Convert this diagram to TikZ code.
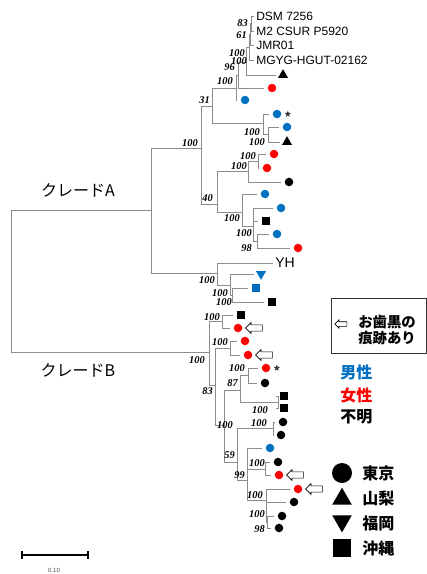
\documentclass[tikz,border=0pt]{standalone}
\usepackage{fontspec}
\setmainfont{Liberation Sans}
\newfontfamily\jpfont{Noto Sans CJK JP}
\newfontfamily\bsfont{Liberation Serif}
\usetikzlibrary{shapes.geometric,shapes.arrows,arrows.meta,positioning}
\definecolor{mblue}{RGB}{0,112,192}
\definecolor{mred}{RGB}{255,0,0}
\definecolor{limbgray}{RGB}{140,140,140}
\tikzset{
  limb/.style={draw=limbgray,line width=0.6pt},
  leafline/.style={limb,shorten >=2.5pt},
  textline/.style={limb,shorten >=1.5pt},
  mdot/.style={circle,inner sep=0pt,minimum size=6.4pt},
  bdot/.style={mdot,fill=mblue},
  rdot/.style={mdot,fill=mred},
  kdot/.style={mdot,fill=black},
  ktri/.style={regular polygon,regular polygon sides=3,inner sep=0pt,minimum size=8.7pt,fill=black},
  bdown/.style={ktri,fill=mblue,shape border rotate=180},
  ksq/.style={rectangle,inner sep=0pt,minimum size=6pt,fill=black},
  bsq/.style={ksq,fill=mblue},
  mstar/.style={star,star points=5,star point ratio=2.4,inner sep=0pt,minimum size=5pt,fill=black!80},
  oharrow/.style={single arrow,draw=black,fill=white,line width=0.5pt,shape border rotate=180,
    inner sep=2.1pt,minimum height=12.5pt,single arrow head extend=1.6pt},
  strain/.style={anchor=west,inner sep=0pt,font=\fontsize{9}{10}\selectfont},
  bs/.style={anchor=east,inner sep=0pt,font=\bsfont\bfseries\itshape\fontsize{7.8}{8}\selectfont},
  clade/.style={inner sep=0pt,font=\jpfont\fontsize{12}{13}\selectfont},
  legtext/.style={anchor=west,inner sep=0pt,font=\jpfont\bfseries\fontsize{12}{13}\selectfont}
}
\begin{document}
\begin{tikzpicture}[x=0.75pt,y=-0.75pt]
\useasboundingbox (0,0) rectangle (427,574);
\coordinate (root) at (11,281);
\coordinate (nA) at (151,210);
\coordinate (nB) at (209,352);
\coordinate (nX) at (201,148);
\coordinate (nY) at (217,273);
\coordinate (n31) at (212,106);
\coordinate (n40) at (217,204);
\coordinate (na) at (251,23);
\coordinate (nb) at (250,34);
\coordinate (nc) at (249,47);
\coordinate (nd) at (246,62);
\coordinate (ne) at (238,75);
\coordinate (nf) at (236,88);
\coordinate (nh) at (263,123);
\coordinate (ng) at (268,134);
\coordinate (ni) at (258,161);
\coordinate (nj) at (248,171);
\coordinate (nk) at (242,212);
\coordinate (nm) at (253,226);
\coordinate (nn) at (257,241);
\coordinate (nq) at (230,285);
\coordinate (nr) at (232,295);
\coordinate (ns) at (222,321);
\coordinate (nt) at (215,385);
\coordinate (nu) at (230,348);
\coordinate (nt2) at (224,425);
\coordinate (n87) at (240,390);
\coordinate (nw) at (248,375);
\coordinate (nsq) at (278,402);
\coordinate (nt3) at (237,462);
\coordinate (nz) at (273,428);
\coordinate (ndd) at (247,480);
\coordinate (naa) at (265,469);
\coordinate (nbb) at (266,500);
\coordinate (ncc) at (267,522);
\node[strain] (s1) at (256,16) {DSM 7256};
\node[strain] (s2) at (256,31) {M2 CSUR P5920};
\node[strain] (s3) at (256,45) {JMR01};
\node[strain] (s4) at (256,60) {MGYG-HGUT-02162};
\node[ktri] (l5) at (283,75) {};
\node[rdot] (l6) at (272,88) {};
\node[bdot] (l7) at (245,100) {};
\node[bdot] (l8) at (277,114) {};
\node[bdot] (l9) at (287,127) {};
\node[ktri] (l10) at (287,142) {};
\node[rdot] (l11) at (274,154) {};
\node[rdot] (l12) at (267,168) {};
\node[kdot] (l13) at (289,182) {};
\node[bdot] (l14) at (265,194) {};
\node[bdot] (l15) at (281,208) {};
\node[ksq] (l16) at (266,221) {};
\node[bdot] (l17) at (277,234) {};
\node[rdot] (l18) at (298,248) {};
\node[strain,font=\fontsize{10.5}{11}\selectfont] (l19) at (275,263) {YH};
\node[bdown] (l20) at (261,274) {};
\node[bsq] (l21) at (256,288) {};
\node[ksq] (l22) at (272,302) {};
\node[ksq] (l23) at (241,315) {};
\node[rdot] (l24) at (238,328) {};
\node[rdot] (l25) at (245,341) {};
\node[rdot] (l26) at (248,355) {};
\node[rdot] (l27) at (266,368) {};
\node[kdot] (l28) at (265,383) {};
\node[ksq] (l29) at (284,396) {};
\node[ksq] (l30) at (284,408) {};
\node[kdot] (l31) at (283,422) {};
\node[kdot] (l32) at (281,435) {};
\node[bdot] (l33) at (270,448) {};
\node[kdot] (l34) at (278,462) {};
\node[rdot] (l35) at (279,475) {};
\node[rdot] (l36) at (298,489) {};
\node[kdot] (l37) at (294,502) {};
\node[kdot] (l38) at (282,516) {};
\node[kdot] (l39) at (279,528) {};
\node[mstar,right=3pt of l8] (star8) {};
\node[mstar,right=3pt of l27] (star27) {};
\node[oharrow,right=2pt of l24] (arr24) {};
\node[oharrow,right=2pt of l26] (arr26) {};
\node[oharrow,right=2pt of l35] (arr35) {};
\node[oharrow,right=2pt of l36] (arr36) {};
\draw[limb] (root) |- (nA);
\draw[limb] (root) |- (nB);
\draw[limb] (nA) |- (nX);
\draw[limb] (nA) |- (nY);
\draw[limb] (nX) |- (n31);
\draw[limb] (nX) |- (n40);
\draw[limb] (n31) |- (nf);
\draw[limb] (n31) |- (nh);
\draw[limb] (nf) |- (ne);
\draw[leafline] (nf) |- (l7);
\draw[limb] (ne) |- (nd);
\draw[leafline] (ne) |- (l6);
\draw[limb] (nd) |- (nc);
\draw[leafline] (nd) |- (l5);
\draw[limb] (nc) |- (nb);
\draw[textline] (nc) |- (s4);
\draw[limb] (nb) |- (na);
\draw[textline] (nb) |- (s3);
\draw[textline] (na) |- (s1);
\draw[textline] (na) |- (s2);
\draw[leafline] (nh) |- (l8);
\draw[limb] (nh) |- (ng);
\draw[leafline] (ng) |- (l9);
\draw[leafline] (ng) |- (l10);
\draw[limb] (n40) |- (nj);
\draw[limb] (n40) |- (nk);
\draw[limb] (nj) |- (ni);
\draw[leafline] (nj) |- (l13);
\draw[leafline] (ni) |- (l11);
\draw[leafline] (ni) |- (l12);
\draw[leafline] (nk) |- (l14);
\draw[limb] (nk) |- (nm);
\draw[leafline] (nm) |- (l15);
\draw[leafline] (nm) |- (l16);
\draw[limb] (nm) |- (nn);
\draw[leafline] (nn) |- (l17);
\draw[leafline] (nn) |- (l18);
\draw[textline] (nY) |- (l19);
\draw[limb] (nY) |- (nq);
\draw[leafline] (nq) |- (l20);
\draw[limb] (nq) |- (nr);
\draw[leafline] (nr) |- (l21);
\draw[leafline] (nr) |- (l22);
\draw[limb] (nB) |- (ns);
\draw[limb] (nB) |- (nt);
\draw[leafline] (ns) |- (l23);
\draw[leafline] (ns) |- (l24);
\draw[limb] (nt) |- (nu);
\draw[limb] (nt) |- (nt2);
\draw[leafline] (nu) |- (l25);
\draw[leafline] (nu) |- (l26);
\draw[limb] (nt2) |- (n87);
\draw[limb] (nt2) |- (nt3);
\draw[limb] (n87) |- (nw);
\draw[limb] (n87) |- (nsq);
\draw[leafline] (nw) |- (l27);
\draw[leafline] (nw) |- (l28);
\draw[leafline] (nsq) |- (l29);
\draw[leafline] (nsq) |- (l30);
\draw[limb] (nt3) |- (nz);
\draw[limb] (nt3) |- (ndd);
\draw[leafline] (nz) |- (l31);
\draw[leafline] (nz) |- (l32);
\draw[leafline] (ndd) |- (l33);
\draw[limb] (ndd) |- (naa);
\draw[limb] (ndd) |- (nbb);
\draw[leafline] (naa) |- (l34);
\draw[leafline] (naa) |- (l35);
\draw[leafline] (nbb) |- (l36);
\draw[leafline] (nbb) |- (l37);
\draw[limb] (nbb) |- (ncc);
\draw[leafline] (ncc) |- (l38);
\draw[leafline] (ncc) |- (l39);
\foreach \bx/\by/\bt [count=\i] in {248/23/83,247/35/61,245/53/100,247/61/100,235/67/96,233/81/100,
  210/100/31,260/132/100,265/142/100,198/143/100,256/156/100,247/166/100,213/198/40,240/218/100,
  252/233/100,252/248/98,215/280/100,228/293/100,232/302/100,220/317/100,228/342/100,205/360/100,
  245/368/100,238/383/87,213/391/83,268/410/100,233/425/100,267/423/100,235/455/59,265/463/100,
  245/475/99,263/495/100,265/514/100,265/529/98}
  \node[bs] (bs\i) at (\bx,\by) {\bt};
\node[clade] (cladeA) at (78,190) {クレードA};
\node[clade] (cladeB) at (78,370) {クレードB};
\node[draw=black!80,line width=0.6pt,minimum width=71.25pt,minimum height=41.25pt,inner sep=0pt] (legbox) at (378.5,325.5) {};
\node[oharrow,minimum height=9pt,inner sep=1.5pt,single arrow head extend=1.4pt] (legarr) at (342,324) {};
\node[anchor=west,inner sep=0pt,align=left,font=\jpfont\bfseries\fontsize{10.8}{12}\selectfont] (legtxt) at (358,330) {お歯黒の\\痕跡あり};
\node[legtext,text=mblue] (male) at (340,372) {男性};
\node[legtext,text=mred] (female) at (340,395) {女性};
\node[legtext] (unknown) at (340,417) {不明};
\node[mdot,fill=black,minimum size=15pt] (kcirc) at (342,473) {};
\node[ktri,minimum size=17pt] (ktriL) at (342,499) {};
\node[ktri,fill=black,minimum size=17pt,shape border rotate=180] (kdownL) at (342,521) {};
\node[ksq,minimum size=13pt] (ksqL) at (342,548) {};
\node[legtext] (tokyo) at (362,473) {東京};
\node[legtext] (yamanashi) at (362,498) {山梨};
\node[legtext] (fukuoka) at (362,523) {福岡};
\node[legtext] (okinawa) at (362,548) {沖縄};
\coordinate (sbl) at (21,555);
\coordinate (sbr) at (89,555);
\draw[line width=1.3pt,{Bar[width=5.5pt,line width=1.6pt]}-{Bar[width=5.5pt,line width=1.6pt]}] (sbl) -- (sbr);
\node[inner sep=0pt,font=\fontsize{4.5}{5}\selectfont,text=black!70] (sblabel) at (54,570) {0.10};
\end{tikzpicture}
\end{document}
